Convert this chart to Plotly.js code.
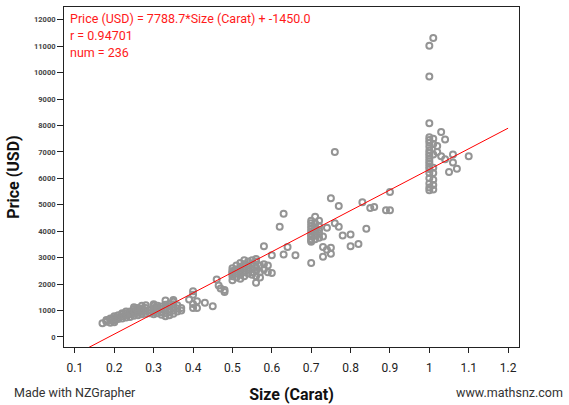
<!DOCTYPE html>
<html>
<head>
<meta charset="utf-8">
<script src="https://cdn.plot.ly/plotly-3.0.1.min.js"></script>
<style>html,body{margin:0;padding:0;background:#fff;}#chart{width:569px;height:405px;}</style>
</head>
<body>
<div id="chart"></div>
<script>
// Carat sizes and prices, grouped by cluster
const caratA = [0.17,0.18,0.18,0.18, 0.19,0.19,0.19,0.19, 0.20,0.20,0.20,0.20,0.20, 0.21,0.21,0.21,
  0.22,0.22,0.22,0.22, 0.23,0.23,0.23,0.23, 0.24,0.24,0.24,0.24, 0.25,0.25,0.25,0.25,0.25,0.25,
  0.26,0.26,0.26,0.26, 0.27,0.27,0.27,0.27,0.27, 0.28,0.28,0.28,0.28, 0.29,0.29,
  0.30,0.30,0.30,0.30,0.30,0.30, 0.31,0.31,0.31,0.31,0.31, 0.32,0.32,0.32,0.32,
  0.33,0.33,0.33,0.33,0.33,0.33, 0.34,0.34,0.34,0.34,0.34, 0.35,0.35,0.35,0.35,0.35,0.35,
  0.36,0.36,0.36, 0.37,0.37];
const priceA = [520,580,640,600, 540,620,700,660, 560,650,720,780,620, 680,750,820,
  700,780,860,900, 740,820,900,960, 760,860,960,900, 800,880,960,1060,1120,980,
  820,920,1020,1100, 860,960,1080,1180,1020, 880,1000,1100,1200, 900,1020,
  860,940,1020,1100,1180,1240, 900,1000,1100,1180,1060, 840,940,1060,1150,
  780,900,1000,1100,1220,1380, 820,940,1040,1160,1260, 880,1000,1120,1240,1330,1400,
  960,1080,1200, 1000,1100];

const caratM = [0.39,0.40,0.40,0.40,0.41,0.41,0.43,0.45,0.46,0.465,0.47,0.48,0.48,0.40];
const priceM = [1414,1730,1100,1600,1350,1100,1290,1160,2170,1950,1830,1700,1780,1250];

const caratB = [0.50,0.50,0.50,0.50,0.50,0.50, 0.51,0.51,0.51,0.51, 0.52,0.52,0.52,0.52,0.52,
  0.53,0.53,0.53,0.53,0.53, 0.54,0.54,0.54,0.54, 0.55,0.55,0.55,0.55,0.55,
  0.56,0.56,0.56,0.56,0.56,0.56, 0.57,0.57,0.57, 0.58,0.58,0.58, 0.59,0.59, 0.60,0.60,
  0.62, 0.63,0.63, 0.64, 0.66];
const priceB = [2150,2300,2450,2600,2400,2500, 2250,2400,2550,2700, 2200,2350,2500,2650,2800,
  2300,2450,2600,2750,2900, 2400,2550,2700,2850, 2450,2600,2750,2900,2350,
  2050,2300,2500,2650,2850,2950, 2250,2450,2700, 2550,2750,3430, 2700,2450, 3090,2420,
  4170, 4660,3120, 3400, 3090];

const caratC = [0.70,0.70,0.70,0.70,0.70,0.70,0.70,0.70,0.70,0.70,0.70,0.70,
  0.71,0.71,0.71,0.71,0.71,0.71, 0.72,0.72,0.72,0.72,0.72, 0.73,0.73,0.73, 0.74,0.74,
  0.75,0.75,0.75, 0.76,0.76, 0.77,0.77, 0.78, 0.80,0.80, 0.82, 0.83, 0.84, 0.85, 0.86,
  0.89, 0.90,0.90];
const priceC = [3600,3700,3800,3900,4000,4100,4200,4300,4400,3650,3850,2800,
  3700,3850,4000,4150,4300,4550, 3750,3900,4050,4200,4400, 3400,3030,3800, 4130,3300,
  3370,3145,5250, 7000,4300, 4950,4170, 3840, 3880,3430, 3520, 5100, 4090, 4880, 4920,
  4790, 4790,5480];

const caratD = [1.00,1.00,1.00,1.00,1.00,1.00,1.00,1.00,1.00,1.00,1.00,1.00,1.00,1.00,1.00,1.00,1.00,1.00,1.00,1.00,
  1.01,1.01,1.01,1.01,1.01,1.01,1.01,1.01,1.01, 1.02,1.02, 1.03,1.03, 1.04,1.04, 1.05, 1.06,1.06, 1.07, 1.10];
const priceD = [11010,9850,8080,7550,7450,7350,7200,7050,6950,6850,6750,6650,6550,6450,6350,6200,6000,5800,5650,5550,
  11310,7500,7300,6900,6400,6200,5950,5750,5580, 7220,7000, 7750,6840, 7470,6720, 6240, 6900,6600, 6360, 6840];

const slope = 7788.7, intercept = -1450.0;
const lineX = [0.1, 1.2];
const xTicks = [0.1,0.2,0.3,0.4,0.5,0.6,0.7,0.8,0.9,1.0,1.1,1.2];
const xTickText = ['0.1','0.2','0.3','0.4','0.5','0.6','0.7','0.8','0.9','1','1.1','1.2'];
const yTicks = [0,1000,2000,3000,4000,5000,6000,7000,8000,9000,10000,11000,12000];
const yTickText = ['0','1000','2000','3000','4000','5000','6000','7000','8000','9000','10000','11000','12000'];

const carat = caratA.concat(caratM, caratB, caratC, caratD);
const price = priceA.concat(priceM, priceB, priceC, priceD);

const traces = [
  {x: carat, y: price, type: 'scatter', mode: 'markers',
   marker: {symbol: 'circle-open', size: 6, color: '#949494', line: {width: 2, color: '#949494'}},
   hoverinfo: 'skip', showlegend: false},
  {x: lineX, y: lineX.map(v => slope * v + intercept), type: 'scatter', mode: 'lines',
   line: {color: 'red', width: 1}, hoverinfo: 'skip', showlegend: false}
];

const red = {family: 'Roboto, sans-serif', size: 12.5, color: '#ff1a1a'};
const layout = {
  width: 569, height: 405,
  margin: {l: 64, r: 50, t: 7, b: 58},
  paper_bgcolor: '#fff', plot_bgcolor: '#fff',
  font: {family: 'Roboto, sans-serif'},
  showlegend: false,
  xaxis: {range: [0.0723, 1.2277], tickvals: xTicks, ticktext: xTickText,
    showgrid: false, zeroline: false, showline: true, mirror: true, linecolor: '#222', linewidth: 1,
    ticks: 'outside', ticklen: 5, tickcolor: '#222', ticklabelstandoff: 5,
    tickfont: {family: 'Roboto, sans-serif', size: 12, color: '#222'},
    title: {text: 'Size (Carat)', font: {family: 'Roboto, sans-serif', size: 16, color: '#111', weight: 'bold'}, standoff: 14}},
  yaxis: {range: [-379, 12480], tickvals: yTicks, ticktext: yTickText,
    showgrid: false, zeroline: false, showline: true, mirror: true, linecolor: '#222', linewidth: 1,
    ticks: 'outside', ticklen: 6, tickcolor: '#222',
    tickfont: {family: 'Roboto, sans-serif', size: 7.5, color: '#444', weight: 'bold'},
    title: {text: 'Price (USD)', font: {family: 'Roboto, sans-serif', size: 16, color: '#111', weight: 'bold'}, standoff: 10}},
  annotations: [
    {xref: 'paper', yref: 'paper', x: 0.009, y: 0.965, xanchor: 'left', yanchor: 'middle', showarrow: false,
     text: 'Price (USD) = 7788.7*Size (Carat) + -1450.0', font: red},
    {xref: 'paper', yref: 'paper', x: 0.009, y: 0.915, xanchor: 'left', yanchor: 'middle', showarrow: false,
     text: 'r = 0.94701', font: red},
    {xref: 'paper', yref: 'paper', x: 0.009, y: 0.865, xanchor: 'left', yanchor: 'middle', showarrow: false,
     text: 'num = 236', font: red},
    {xref: 'paper', yref: 'paper', x: -0.114, y: -0.133, xanchor: 'left', yanchor: 'middle', showarrow: false,
     text: 'Made with NZGrapher', font: {family: 'Roboto, sans-serif', size: 12.5, color: '#333'}},
    {xref: 'paper', yref: 'paper', x: 1.101, y: -0.133, xanchor: 'right', yanchor: 'middle', showarrow: false,
     text: 'www.mathsnz.com', font: {family: 'Roboto, sans-serif', size: 12.5, color: '#333'}}
  ]
};

Plotly.newPlot('chart', traces, layout, {staticPlot: true, displayModeBar: false});
</script>
</body>
</html>
